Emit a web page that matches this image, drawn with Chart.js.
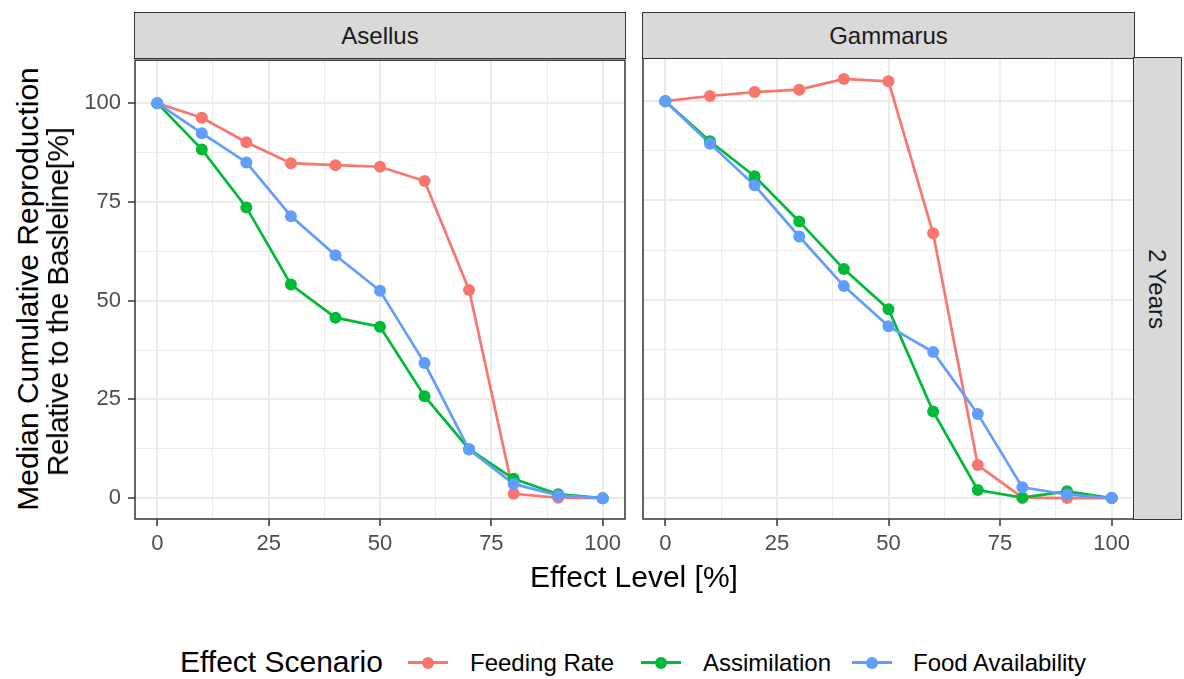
<!DOCTYPE html>
<html>
<head>
<meta charset="utf-8">
<script src="https://cdn.jsdelivr.net/npm/chart.js@4.4.1/dist/chart.umd.min.js"></script>
<style>
  body { margin: 0; background: #fff; font-family: "Liberation Sans", Arial, sans-serif; }
  #wrap { position: relative; width: 1184px; height: 679px; overflow: hidden; }
  canvas { position: absolute; }
  .strip { position: absolute; box-sizing: border-box; background: #d9d9d9; border: 1.5px solid #333;
           color: #1a1a1a; font-size: 24px; display: flex; align-items: center; justify-content: center; }
  .lbl { position: absolute; white-space: nowrap; line-height: 1; color: #000; }
  .key { position: absolute; width: 40px; height: 3px; }
  .key span { position: absolute; left: 14px; top: -4.5px; width: 12px; height: 12px; border-radius: 50%; }
</style>
</head>
<body>
<div id="wrap">
  <canvas id="asellus" width="574" height="530" style="left:60px;top:40px"></canvas>
  <canvas id="gammarus" width="520" height="530" style="left:630px;top:40px"></canvas>

  <div class="strip" style="left:134px;top:12px;width:492px;height:47px">Asellus</div>
  <div class="strip" style="left:642px;top:12px;width:493px;height:47px">Gammarus</div>
  <div class="strip" style="left:1133px;top:57px;width:49px;height:463px">
    <div style="transform:rotate(90deg);white-space:nowrap">2 Years</div>
  </div>

  <div class="lbl" style="left:28px;top:289px;font-size:30px;transform:translate(-50%,-50%) rotate(-90deg)">Median Cumulative Reproduction</div>
  <div class="lbl" style="left:58px;top:302px;font-size:30px;letter-spacing:-0.6px;transform:translate(-50%,-50%) rotate(-90deg)">Relative to the Basleline[%]</div>
  <div class="lbl" style="left:634px;top:577px;font-size:30px;transform:translate(-50%,-50%)">Effect Level [%]</div>

  <div id="legend"></div>
</div>

<script>
const effectLevels = [0, 10, 20, 30, 40, 50, 60, 70, 80, 90, 100];
const scenarioNames = ['Feeding Rate', 'Assimilation', 'Food Availability'];
const scenarioColors = ['#F8766D', '#00BA38', '#619CFF'];

const asellusFeeding = [100, 96.3, 90.1, 84.8, 84.3, 83.9, 80.3, 52.7, 1.1, 0.1, 0];
const asellusAssimilation = [100, 88.3, 73.6, 54.1, 45.7, 43.4, 25.8, 12.4, 4.9, 1.0, 0];
const asellusFood = [100, 92.4, 85.0, 71.4, 61.5, 52.5, 34.2, 12.3, 3.6, 0.7, 0];

const gammarusFeeding = [100, 101.3, 102.3, 102.9, 105.6, 105.0, 66.7, 8.3, 0.1, 0, 0];
const gammarusAssimilation = [100, 89.9, 81.1, 69.7, 57.7, 47.6, 21.8, 2.0, 0.1, 1.7, 0];
const gammarusFood = [100, 89.3, 78.8, 65.9, 53.4, 43.3, 36.8, 21.2, 2.7, 0.9, 0];

// grid breaks: labelled every 25, minor lines in between
const breaks = [0, 12.5, 25, 37.5, 50, 62.5, 75, 87.5, 100];

Chart.defaults.font.family = '"Liberation Sans", Arial, sans-serif';

function isMajor(ctx) {
    return ctx.tick && ctx.tick.value % 25 === 0;
}

function gridOptions(drawTicks) {
    return {
        color: '#ebebeb',
        lineWidth: ctx => isMajor(ctx) ? 2 : 1,
        drawTicks: drawTicks,
        tickLength: 7,
        tickWidth: 1.5,
        tickColor: ctx => isMajor(ctx) ? '#333333' : 'rgba(0,0,0,0)'
    };
}

function tickOptions(show, padding) {
    return {
        display: show,
        autoSkip: false,
        maxRotation: 0,
        padding: padding,
        color: '#4d4d4d',
        font: { size: 22 },
        callback: v => v % 25 === 0 ? v : ''
    };
}

function buildDatasets(series) {
    let lines = [], points = [];
    series.forEach((values, i) => {
        let pts = effectLevels.map((x, j) => ({ x: x, y: values[j] }));
        lines.push({
            label: scenarioNames[i], data: pts, showLine: true,
            borderColor: scenarioColors[i], borderWidth: 2.7, pointRadius: 0,
            order: 6 - i
        });
        points.push({
            label: scenarioNames[i], data: pts, showLine: false,
            backgroundColor: scenarioColors[i], pointBackgroundColor: scenarioColors[i],
            pointBorderWidth: 0, pointRadius: 6, pointHoverRadius: 6,
            order: 3 - i
        });
    });
    return lines.concat(points);
}

const panelBorder = {
    id: 'panelBorder',
    afterDraw(chart) {
        const a = chart.chartArea, ctx = chart.ctx;
        ctx.save();
        ctx.strokeStyle = '#333333';
        ctx.lineWidth = 1.5;
        ctx.strokeRect(a.left, a.top, a.right - a.left, a.bottom - a.top);
        ctx.restore();
    }
};

function drawPanel(canvasId, series, withYAxis, padding) {
    const ctx = document.getElementById(canvasId).getContext('2d');
    return new Chart(ctx, {
        type: 'scatter',
        data: { datasets: buildDatasets(series) },
        options: {
            responsive: false,
            animation: false,
            devicePixelRatio: 1,
            events: [],
            layout: { padding: padding },
            plugins: { legend: { display: false }, tooltip: { enabled: false } },
            scales: {
                x: {
                    type: 'linear', min: -5, max: 105,
                    afterBuildTicks: s => { s.ticks = breaks.map(v => ({ value: v })); },
                    afterFit: s => { s.height = 51; },
                    grid: gridOptions(true),
                    border: { display: false },
                    ticks: tickOptions(true, 5)
                },
                y: {
                    type: 'linear', min: -5.28, max: 110.88,
                    afterBuildTicks: s => { s.ticks = breaks.map(v => ({ value: v })); },
                    afterFit: s => { s.width = withYAxis ? 75 : 0; },
                    grid: gridOptions(withYAxis),
                    border: { display: false },
                    ticks: tickOptions(withYAxis, 7)
                }
            }
        },
        plugins: [panelBorder]
    });
}

function drawLegend() {
    const legend = document.getElementById('legend');
    let title = document.createElement('div');
    title.className = 'lbl';
    title.style.cssText = 'left:180px;top:662px;font-size:30px;transform:translateY(-50%)';
    title.innerText = 'Effect Scenario';
    legend.appendChild(title);

    const keyLeft = [408, 641, 852];
    const textLeft = [470, 703, 913];
    scenarioNames.forEach((name, i) => {
        let key = document.createElement('div');
        key.className = 'key';
        key.style.cssText = 'left:' + keyLeft[i] + 'px;top:661px;background:' + scenarioColors[i];
        let dot = document.createElement('span');
        dot.style.background = scenarioColors[i];
        key.appendChild(dot);
        legend.appendChild(key);

        let txt = document.createElement('div');
        txt.className = 'lbl';
        txt.style.cssText = 'left:' + textLeft[i] + 'px;top:663px;font-size:24px;transform:translateY(-50%)';
        txt.innerText = name;
        legend.appendChild(txt);
    });
}

drawPanel('asellus', [asellusFeeding, asellusAssimilation, asellusFood], true,
    { left: 0, top: 18, right: 9, bottom: 0 });
drawPanel('gammarus', [gammarusFeeding, gammarusAssimilation, gammarusFood], false,
    { left: 13, top: 18, right: 16, bottom: 0 });
drawLegend();
</script>
</body>
</html>
